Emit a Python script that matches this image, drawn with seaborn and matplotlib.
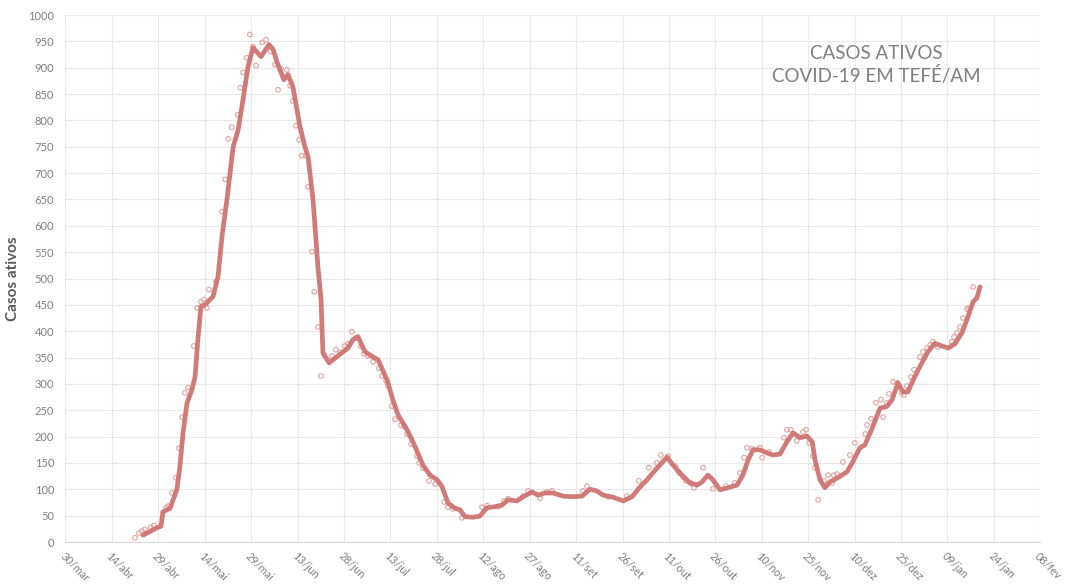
import matplotlib
matplotlib.use("Agg")
import matplotlib.pyplot as plt
import seaborn as sns
import pandas as pd

# ---- data (days counted from 30/mar/2020) ----
line_day = [25.1, 27.3, 29.9, 30.9, 31.5, 33.8, 36.0, 37.0, 38.0, 39.3, 40.9, 41.9, 42.8, 43.8,
            45.1, 46.7, 47.7, 49.3, 50.6, 52.2, 54.2, 55.8, 57.4, 59.0, 60.6, 63.2, 65.8, 67.1,
            68.4, 70.6, 71.9, 73.5, 75.8, 77.4, 78.4, 80.0, 81.6, 82.6, 83.2, 85.2, 87.8, 91.3,
            92.9, 94.5, 96.8, 100.0, 101.0, 103.9, 105.8, 107.5, 110.4, 113.0, 115.5, 117.8,
            120.1, 121.7, 123.6, 125.9, 127.5, 129.1, 131.7, 133.9, 136.2, 138.8, 141.1, 143.0,
            145.9, 147.9, 150.8, 152.7, 154.9, 157.5, 160.8, 164.0, 166.9, 169.5, 171.7, 173.7,
            176.9, 180.2, 183.1, 185.6, 187.9, 191.1, 194.4, 196.3, 199.2, 201.8, 204.1, 205.7,
            207.6, 209.2, 211.5, 214.1, 217.0, 218.9, 220.6, 222.2, 224.4, 226.7, 228.6, 230.9,
            233.1, 235.1, 237.4, 239.6, 241.3, 242.2, 243.8, 245.4, 247.0, 249.6, 252.5, 254.4,
            256.7, 258.3, 260.6, 263.2, 265.4, 267.1, 269.0, 270.6, 272.2, 273.9, 276.1, 278.7,
            280.9, 283.2, 285.2, 287.4, 289.7, 291.6, 293.3, 294.5, 295.5]
line_val = [13, 20, 28, 30, 57, 64, 99, 143, 207, 264, 289, 314, 384, 447,
            450, 460, 466, 503, 580, 650, 750, 782, 840, 902, 938, 921, 944, 935,
            910, 877, 887, 864, 788, 750, 731, 650, 522, 460, 359, 340, 352, 368,
            384, 390, 361, 349, 346, 308, 270, 241, 213, 181, 146, 127,
            118, 105, 74, 64, 61, 48, 47, 49, 65, 67, 70, 80,
            78, 86, 95, 89, 93, 93, 87, 86, 87, 100, 97, 89,
            85, 78, 86, 104, 118, 140, 161, 146, 127, 112, 108, 114,
            127, 118, 99, 103, 108, 127, 156, 175, 175, 169, 165, 167,
            190, 207, 198, 201, 190, 156, 118, 103, 114, 122, 133, 152,
            179, 184, 215, 254, 257, 270, 302, 285, 285, 307, 333, 361,
            377, 372, 368, 376, 397, 427, 456, 463, 484]

dot_day = [22.5, 23.8, 24.7, 25.7, 27.6, 28.6, 32.5, 33.2, 34.4, 35.7, 36.7, 37.7, 38.6, 39.6,
           41.5, 42.5, 43.8, 44.8, 45.7, 46.4, 48.6, 50.6, 51.6, 52.6, 53.7, 55.7, 56.5, 57.4,
           58.6, 59.6, 60.6, 61.6, 63.6, 64.8, 66.4, 67.7, 68.7, 69.7, 71.6, 72.6, 73.5, 74.5,
           75.5, 76.4, 77.7, 78.4, 79.7, 80.4, 81.6, 82.6, 83.6, 86.1, 87.4, 88.7, 90.3, 91.3,
           92.6, 93.9, 95.5, 96.5, 97.7, 99.4, 101.3, 102.3, 103.6, 104.2, 105.5, 106.5, 108.4,
           109.4, 110.4, 111.7, 113.6, 114.3, 115.5, 117.5, 119.5, 122.4, 123.6, 125.2, 128.1,
           134.6, 136.2, 139.8, 141.7, 143.0, 147.9, 149.5, 153.4, 155.6, 157.2, 167.2, 168.5,
           175.3, 181.4, 185.3, 188.5, 191.1, 192.4, 194.7, 197.0, 198.3, 200.5, 202.1, 199.6,
           203.1, 206.0, 209.2, 213.4, 216.3, 217.9, 219.3, 220.2, 221.8, 224.4, 225.1, 227.3,
           232.2, 233.1, 234.4, 236.3, 238.3, 239.3, 240.3, 241.5, 242.2, 243.2, 245.1, 246.4,
           247.7, 248.3, 249.3, 251.2, 253.5, 255.1, 258.4, 259.0, 260.3, 261.9, 263.5, 264.2,
           265.4, 266.1, 267.4, 268.7, 270.3, 270.9, 271.9, 273.2, 274.2, 276.1, 277.1, 278.4,
           279.4, 280.3, 281.9, 286.4, 287.1, 288.1, 289.0, 290.0, 291.3, 291.9, 293.3]
dot_val = [8, 17, 21, 24, 28, 31, 65, 68, 93, 122, 178, 237, 283, 293,
           372, 444, 456, 460, 444, 479, 494, 627, 688, 765, 787, 811, 862, 891,
           919, 963, 940, 904, 948, 953, 931, 906, 858, 898, 896, 866, 837, 790,
           763, 733, 733, 674, 551, 475, 408, 315, 355, 353, 365, 359, 372, 376,
           399, 387, 371, 357, 353, 342, 330, 315, 306, 296, 258, 233, 222,
           219, 205, 186, 163, 150, 140, 116, 110, 76, 66, 63, 46,
           66, 69, 67, 78, 82, 87, 97, 83, 95, 97, 97, 106,
           86, 87, 116, 141, 150, 165, 163, 144, 131, 116, 112, 123,
           103, 141, 101, 106, 112, 131, 160, 179, 177, 179, 160, 171,
           198, 213, 213, 192, 209, 213, 188, 163, 141, 80, 116, 127,
           112, 127, 129, 152, 165, 188, 205, 222, 234, 264, 270, 237,
           264, 281, 304, 302, 283, 279, 296, 313, 327, 351, 361, 368,
           374, 380, 370, 380, 389, 397, 408, 425, 442, 444, 484]

tick_labels = ["30/mar", "14/abr", "29/abr", "14/mai", "29/mai", "13/jun", "28/jun", "13/jul",
               "28/jul", "12/ago", "27/ago", "11/set", "26/set", "11/out", "26/out", "10/nov",
               "25/nov", "10/dez", "25/dez", "09/jan", "24/jan", "08/fev"]
y_ticks = list(range(0, 1001, 50))

title_lines = "CASOS ATIVOS\nCOVID-19 EM TEFÉ/AM"
y_label = "Casos ativos"

# ---- style ----
sns.set_style("white")
plt.rcParams["font.family"] = ["Lato", "DejaVu Sans"]

line_df = pd.DataFrame({"day": line_day, "val": line_val})
dot_df = pd.DataFrame({"day": dot_day, "val": dot_val})

fig = plt.figure(figsize=(10.67, 5.85), dpi=100)
ax = fig.add_axes([0.0613, 0.0735, 0.9137, 0.9008])

sns.scatterplot(data=dot_df, x="day", y="val", ax=ax, marker="o", s=11,
                facecolor="none", edgecolor="#e3a3a1", linewidth=0.8, zorder=2)
sns.lineplot(data=line_df, x="day", y="val", ax=ax, color="#cf7472", linewidth=3.4,
             alpha=0.95, sort=False, zorder=3, solid_capstyle="round",
             solid_joinstyle="round")

x_ticks = [15 * i for i in range(len(tick_labels))]
ax.set_xlim(0, 315)
ax.set_ylim(0, 1000)
ax.set_xticks(x_ticks)
ax.set_xticklabels(tick_labels, rotation=-45, ha="left", va="top",
                   rotation_mode="anchor", fontsize=7.8, color="#7f7f7f")
ax.set_yticks(y_ticks)
ax.set_yticklabels([str(v) for v in y_ticks], fontsize=8, color="#7f7f7f")
ax.tick_params(axis="both", length=0)
ax.tick_params(axis="x", pad=6)
ax.tick_params(axis="y", pad=8)
ax.grid(True, color="#e9e9e9", linewidth=0.8)
ax.set_axisbelow(True)
for s in ["left", "top", "right"]:
    ax.spines[s].set_visible(False)
ax.spines["bottom"].set_color("#d9d9d9")
ax.spines["bottom"].set_linewidth(0.8)

ax.set_xlabel("")
ax.set_ylabel(y_label, fontsize=11, fontweight="bold", color="#595959", labelpad=6)

fig.text(0.821, 0.889, title_lines, ha="center", va="center", fontsize=13.5,
         color="#7f7f7f", linespacing=1.3)

fig.savefig("out.png", dpi=100)
